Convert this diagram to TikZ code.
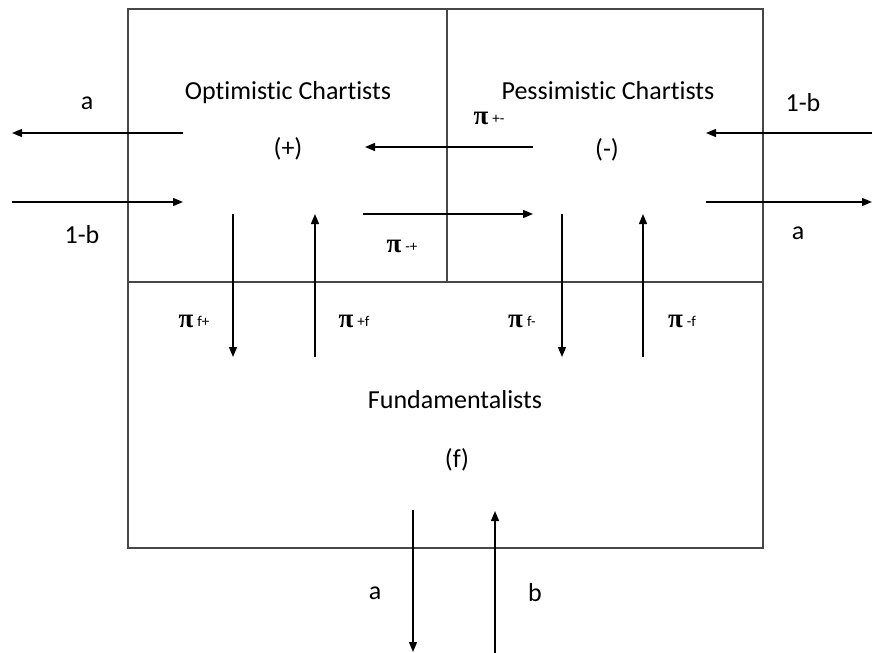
\documentclass[tikz,border=0pt]{standalone}
\usepackage{fontspec}
\setmainfont{Carlito}[Ligatures=NoCommon]
\newfontfamily\pifont{Liberation Serif}
\usetikzlibrary{arrows.meta}
\newcommand{\pilab}[1]{{\pifont\bfseries\fontsize{27}{27}\selectfont π}\hspace{4pt}\raisebox{1pt}{\fontsize{15}{15}\selectfont #1}}

\begin{document}
\begin{tikzpicture}[x=1pt,y=-1pt,
  flow/.style={-{Triangle[length=10pt,width=8pt]},line width=1.4pt},
  wall/.style={draw=black!72,line width=2.2pt},
  lbl/.style={font=\fontsize{26}{30}\selectfont,inner sep=0pt}]
\useasboundingbox (0,0) rectangle (873,653);
% the three groups
\draw[wall] (128,9) rectangle (763,548);
\draw[wall] (128,282) -- (763,282);
\draw[wall] (447,9) -- (447,282);
\node[lbl] (opt) at (288,93) {Optimistic Chartists};
\node[lbl] (optsign) at (288,149) {(+)};
\node[lbl] (pes) at (608,91) {Pessimistic Chartists};
\node[lbl] (pessign) at (607,150) {(-)};
\node[lbl] (fund) at (455,400) {Fundamentalists};
\node[lbl] (fundsign) at (457,460) {(f)};
% arrow end points
\foreach \n/\x/\y in {oaS/183/133,oaE/12/133,obS/12/202,obE/183/202,
    pbS/872/133,pbE/706/133,paS/706/202,paE/872/202,
    opS/533/147,opE/365/147,poS/363/214,poE/533/214,
    foS/233/214,foE/233/357,ofS/315/357,ofE/315/214,
    fpS/562/214,fpE/562/357,pfS/643/357,pfE/643/214,
    faS/413/510,faE/413/652,fbS/495/653,fbE/495/511}
  \coordinate (\n) at (\x,\y);
\foreach \s/\e in {oaS/oaE,obS/obE,pbS/pbE,paS/paE,opS/opE,poS/poE,
    foS/foE,ofS/ofE,fpS/fpE,pfS/pfE,faS/faE,fbS/fbE}
  \draw[flow] (\s) -- (\e);
% rates
\node[lbl] (ra) at (87,103) {a};
\node[lbl] (rb) at (82,235) {1-b};
\node[lbl] (rpb) at (803,103) {1-b};
\node[lbl] (rpa) at (798,233) {a};
\node[lbl] (rfa) at (375,593) {a};
\node[lbl] (rfb) at (535,593) {b};
\node[lbl] (pipm) at (489,118) {\pilab{+-}};
\node[lbl] (pimp) at (402,246) {\pilab{-+}};
\node[lbl] (pifp) at (194,321) {\pilab{f+}};
\node[lbl] (pipf) at (354,321) {\pilab{+f}};
\node[lbl] (pifm) at (522,321) {\pilab{f-}};
\node[lbl] (pimf) at (682,321) {\pilab{-f}};
\end{tikzpicture}
\end{document}
